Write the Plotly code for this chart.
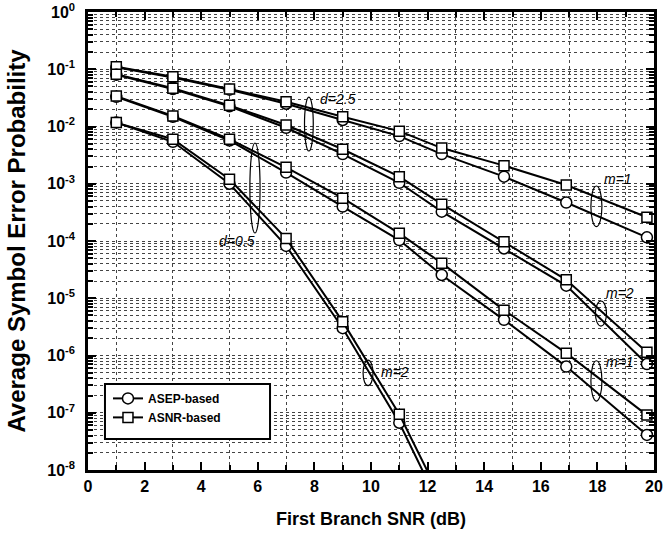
import plotly.graph_objects as go

# ---------------- data ----------------
snr = [1, 3, 5, 7, 9, 11, 12.5, 14.7, 16.9, 19.75]
snr_steep = [1, 3, 5, 7, 9, 11, 12.5]

d25_m1_asep = [0.108, 0.072, 0.044, 0.025, 0.013, 0.0068, 0.0033, 0.00133, 0.00047, 0.000116]
d25_m1_asnr = [0.111, 0.074, 0.045, 0.027, 0.0148, 0.0083, 0.0042, 0.00207, 0.00095, 0.00026]
d25_m2_asep = [0.080, 0.045, 0.0225, 0.0095, 0.0033, 0.00104, 0.000325, 7.4e-5, 1.66e-5, 7.1e-7]
d25_m2_asnr = [0.0815, 0.0465, 0.0234, 0.0106, 0.0040, 0.00133, 0.00044, 9.7e-5, 2.1e-5, 1.14e-6]
d05_m1_asep = [0.033, 0.0148, 0.0057, 0.00157, 0.0004, 0.000104, 2.55e-5, 4.2e-6, 6.4e-7, 4.1e-8]
d05_m1_asnr = [0.034, 0.0153, 0.0060, 0.00194, 0.00056, 0.000136, 4.1e-5, 6.2e-6, 1.1e-6, 9.1e-8]
d05_m2_asep = [0.0117, 0.0054, 0.0010, 8.2e-5, 3.0e-6, 6.7e-8, 2e-9]
d05_m2_asnr = [0.0117, 0.0060, 0.0012, 1.11e-4, 3.9e-6, 9.4e-8, 3e-9]

ytick_vals = [1, 1e-1, 1e-2, 1e-3, 1e-4, 1e-5, 1e-6, 1e-7, 1e-8]
ytick_text = ["10<sup>0</sup>", "10<sup>-1</sup>", "10<sup>-2</sup>", "10<sup>-3</sup>",
              "10<sup>-4</sup>", "10<sup>-5</sup>", "10<sup>-6</sup>", "10<sup>-7</sup>",
              "10<sup>-8</sup>"]

# (x0, x1, y0, y1) of grouping ellipses, in data units
ellipses = [
    (7.65, 7.96, 0.0327, 0.00373),
    (5.72, 6.08, 0.00515, 1.38e-4),
    (17.77, 18.16, 9.14e-4, 1.78e-4),
    (17.93, 18.32, 8.95e-6, 3.27e-6),
    (17.77, 18.16, 8.1e-7, 1.6e-7),
    (9.72, 10.07, 8.3e-7, 2.97e-7),
]
# labels: (text, x, log10 y, anchor)
labels = [
    ("d=2.5", 8.13, -1.52, "left"),
    ("d=0.5", 5.97, -4.0, "right"),
    ("m=1", 18.16, -2.917, "left"),
    ("m=2", 18.25, -4.908, "left"),
    ("m=1", 18.25, -6.113, "left"),
    ("m=2", 10.28, -6.288, "left"),
]

FONT = "Liberation Sans, Arial, sans-serif"

fig = go.Figure()

def add_pair(x, asep, asnr, show):
    fig.add_trace(go.Scatter(
        x=x, y=asep, mode="lines+markers", name="ASEP-based", showlegend=show,
        legendgroup="asep",
        line=dict(color="black", width=2),
        marker=dict(symbol="circle", size=11, color="white", line=dict(color="black", width=1.5)),
    ))
    fig.add_trace(go.Scatter(
        x=x, y=asnr, mode="lines+markers", name="ASNR-based", showlegend=show,
        legendgroup="asnr",
        line=dict(color="black", width=2),
        marker=dict(symbol="square", size=10, color="white", line=dict(color="black", width=1.5)),
    ))

add_pair(snr, d25_m1_asep, d25_m1_asnr, True)
add_pair(snr, d25_m2_asep, d25_m2_asnr, False)
add_pair(snr, d05_m1_asep, d05_m1_asnr, False)
add_pair(snr_steep, d05_m2_asep, d05_m2_asnr, False)

for (x0, x1, y0, y1) in ellipses:
    fig.add_shape(type="circle", xref="x", yref="y", x0=x0, x1=x1, y0=y0, y1=y1,
                  line=dict(color="black", width=1.2), fillcolor="rgba(0,0,0,0)")

# legend frame (white box behind the legend entries)
fig.add_shape(type="rect", xref="paper", yref="paper", x0=0.030, x1=0.3216, y0=0.0677, y1=0.1878,
              line=dict(color="black", width=2), fillcolor="white", layer="above")

for (t, x, ly, anc) in labels:
    fig.add_annotation(x=x, y=ly, xref="x", yref="y", text="<i>" + t + "</i>",
                       showarrow=False, xanchor=anc, yanchor="middle",
                       font=dict(family=FONT, size=14, color="black"))

grid_color = "#444444"

fig.update_xaxes(
    range=[0, 20], dtick=2, tick0=0, automargin=False,
    showline=True, linecolor="black", linewidth=2.5, mirror="allticks",
    ticks="inside", ticklen=8, tickwidth=2, tickcolor="black",
    showgrid=False, zeroline=False,
    minor=dict(dtick=1, tick0=0, ticks="inside", ticklen=5, tickwidth=1.5, tickcolor="black",
               showgrid=True, gridcolor=grid_color, griddash="dot", gridwidth=1),
    tickfont=dict(family=FONT, size=16, color="black", weight="bold"),
    title=dict(text="First Branch SNR (dB)", standoff=19,
               font=dict(family=FONT, size=18, color="black", weight="bold")),
)
fig.update_yaxes(
    type="log", range=[-8, 0], automargin=False,
    tickmode="array", tickvals=ytick_vals, ticktext=ytick_text,
    showline=True, linecolor="black", linewidth=2.5, mirror="allticks",
    ticks="inside", ticklen=8, tickwidth=2, tickcolor="black", ticklabelstandoff=7,
    showgrid=True, gridcolor=grid_color, griddash="dot", gridwidth=1, zeroline=False,
    minor=dict(dtick="D1", ticks="inside", ticklen=5, tickwidth=1.5, tickcolor="black",
               showgrid=True, gridcolor=grid_color, griddash="dot", gridwidth=1),
    tickfont=dict(family=FONT, size=16, color="black", weight="bold"),
    title=dict(text="Average Symbol Error Probability", standoff=15,
               font=dict(family=FONT, size=24, color="black", weight="bold")),
)

fig.update_layout(
    width=663, height=535,
    margin=dict(l=88, r=9, t=12, b=65),
    plot_bgcolor="white", paper_bgcolor="white",
    legend=dict(x=0.0353, y=0.188, xanchor="left", yanchor="top",
                bgcolor="rgba(0,0,0,0)", borderwidth=0,
                font=dict(family=FONT, size=12, color="black", weight="bold"),
                itemwidth=30, tracegroupgap=0),
    showlegend=True,
)

fig.write_html("out.html", config={"displayModeBar": False},
               post_script="document.body.style.margin='0px';document.body.style.overflow='hidden';")
